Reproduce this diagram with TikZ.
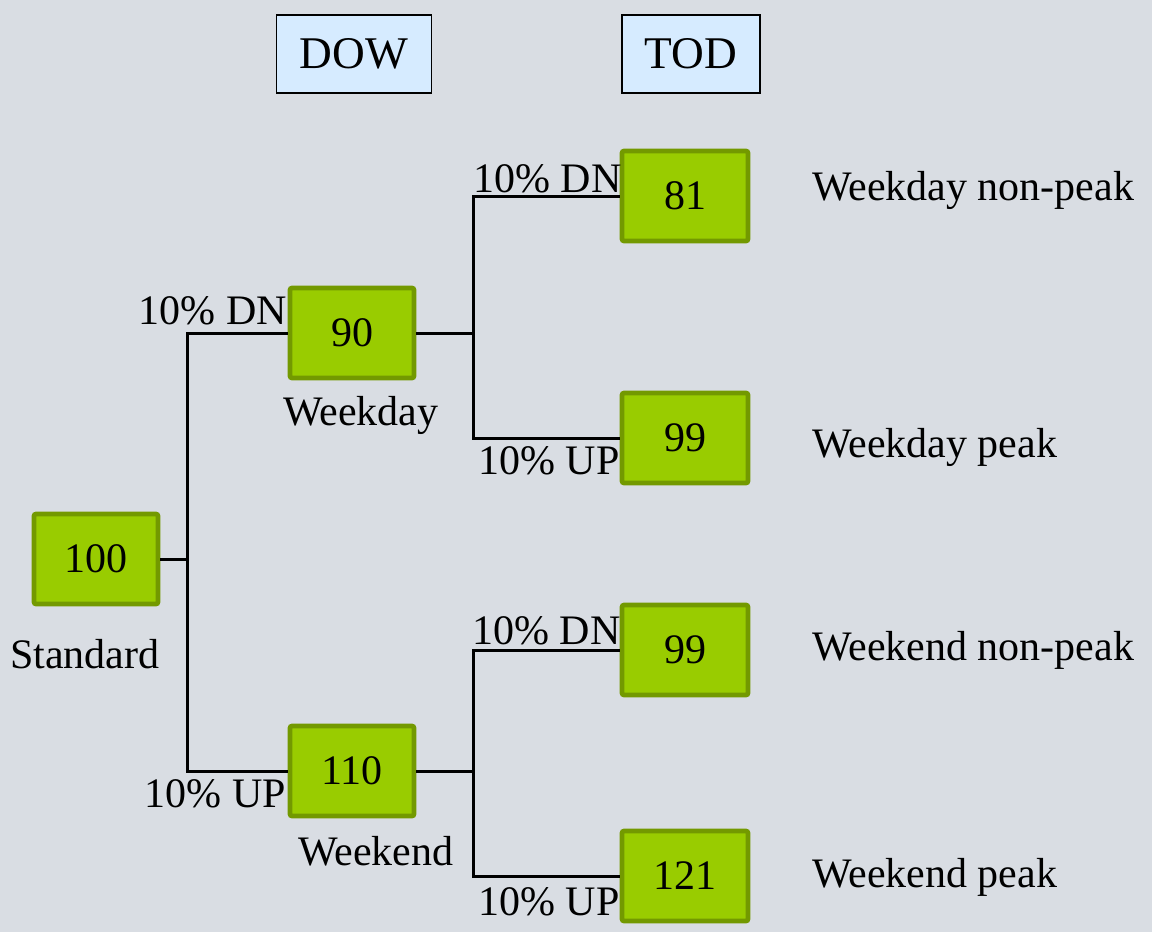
\documentclass[tikz,border=0pt]{standalone}
\usepackage{fontspec}
\setmainfont{Liberation Serif}
\definecolor{bgc}{RGB}{217,221,227}
\definecolor{gfill}{RGB}{153,204,0}
\definecolor{gdraw}{RGB}{115,153,0}
\definecolor{hfill}{RGB}{214,235,255}
\begin{document}
\begin{tikzpicture}[x=0.75pt,y=-0.75pt,
  every node/.style={font=\fontsize{31.5}{36}\selectfont},
  valbox/.style={draw=gdraw,fill=gfill,line width=3.5pt,rounded corners=1.5pt,minimum width=89pt,minimum height=67.5pt,inner sep=0pt},
  hdr/.style={draw=black,fill=hfill,line width=1.2pt,minimum height=58.5pt,inner sep=0pt,font=\fontsize{34}{40}\selectfont},
  lbl/.style={inner sep=0pt},
  conn/.style={draw=black,line width=2.25pt}]
\fill[bgc] (0,0) rectangle (1152,932);
\useasboundingbox (0,0) rectangle (1152,932);
% headers
\node[hdr,minimum width=116pt] (dow) at (354,54) {DOW};
\node[hdr,minimum width=103.5pt] (tod) at (691,54) {TOD};
% value boxes
\node[valbox,minimum width=93pt] (s) at (96,559) {100};
\node[valbox,minimum width=93pt] (wd) at (352,333) {90};
\node[valbox,minimum width=93pt] (we) at (352,771) {110};
\node[valbox,minimum width=94.5pt] (a) at (685,196) {81};
\node[valbox,minimum width=94.5pt] (b) at (685,438) {99};
\node[valbox,minimum width=94.5pt] (c) at (685,650) {99};
\node[valbox,minimum width=94.5pt] (d) at (685,876) {121};
% branch points
\coordinate (j1) at (187,559);
\coordinate (j2) at (473,333);
\coordinate (j3) at (473,771);
% connectors
\draw[conn] (s.east) -- (j1);
\draw[conn] (wd.west) -| (j1) |- (we.west);
\draw[conn] (wd.east) -- (j2);
\draw[conn] (a.west) -| (j2) |- (b.west);
\draw[conn] (we.east) -- (j3);
\draw[conn] (c.west) -| (j3) |- (d.west);
% branch labels
\node[lbl,anchor=base east] (l1) at (287,324) {10\% DN};
\node[lbl,anchor=base east] (l2) at (286,807) {10\% UP};
\node[lbl,anchor=base west] (l3) at (473,192) {10\% DN};
\node[lbl,anchor=base west] (l4) at (478,474) {10\% UP};
\node[lbl,anchor=base west] (l5) at (472,644) {10\% DN};
\node[lbl,anchor=base west] (l6) at (478,915) {10\% UP};
% names
\node[lbl,anchor=base west] (n1) at (283,425) {Weekday};
\node[lbl,anchor=base west] (n2) at (298,865) {Weekend};
\node[lbl,anchor=base west] (n3) at (10,668) {Standard};
\node[lbl,anchor=base west] (r1) at (812,200) {Weekday non-peak};
\node[lbl,anchor=base west] (r2) at (812,457) {Weekday peak};
\node[lbl,anchor=base west] (r3) at (812,660) {Weekend non-peak};
\node[lbl,anchor=base west] (r4) at (812,887) {Weekend peak};
\end{tikzpicture}
\end{document}
